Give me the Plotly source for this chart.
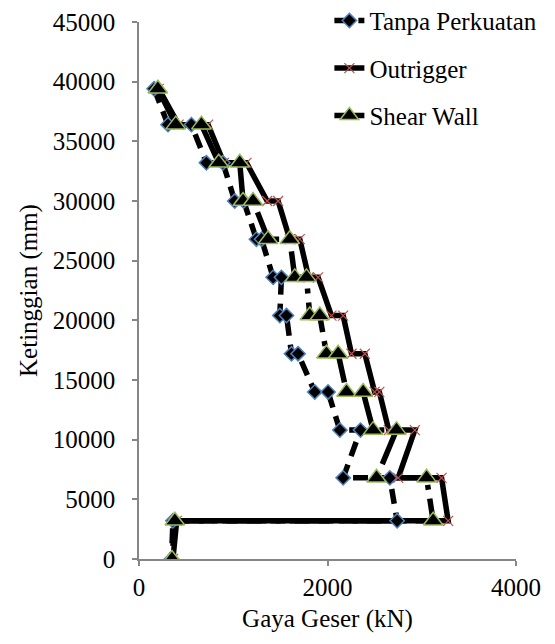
import plotly.graph_objects as go

# Storey heights (mm), shared by all series (sequence of points from roof to base)
heights = [39400, 36400, 36400, 33200, 33200, 30000, 30000, 26800, 26800,
           23600, 23600, 20400, 20400, 17200, 17200, 14000, 14000,
           10800, 10800, 6800, 6800, 3200, 3200, 0]

# Storey shear (kN)
tanpa_perkuatan = [160, 308, 556, 715, 890, 1016, 1110, 1246, 1300,
                   1423, 1511, 1494, 1565, 1618, 1688, 1865, 2006,
                   2131, 2350, 2166, 2661, 2739, 360, 345]
outrigger = [210, 420, 733, 900, 1140, 1360, 1476, 1600, 1706,
             1800, 1900, 2042, 2166, 2255, 2396, 2500, 2550,
             2650, 2927, 2750, 3210, 3280, 400, 360]
shear_wall = [200, 390, 662, 846, 1069, 1104, 1210, 1370, 1600,
              1653, 1777, 1812, 1918, 1989, 2113, 2202, 2378,
              2484, 2732, 2520, 3051, 3121, 380, 350]

series_names = ["Tanpa Perkuatan", "Outrigger", "Shear Wall"]
x_tick_values = [0, 2000, 4000]
y_tick_values = [0, 5000, 10000, 15000, 20000, 25000, 30000, 35000, 40000, 45000]

FONT = "Times New Roman, Liberation Serif, DejaVu Serif, serif"
series = [tanpa_perkuatan, outrigger, shear_wall]
dashes = ["15px,9px", "solid", "40px,9px,5px,9px"]
markers = [
    dict(symbol="diamond", size=11, color="black", line=dict(color="#4F81BD", width=1.5)),
    dict(symbol="x-thin", size=10, color="#C0504D", line=dict(color="#C0504D", width=1.2)),
    dict(symbol="triangle-up", size=17, color="black", line=dict(color="#9BBB59", width=1.5)),
]

fig = go.Figure()
# lines first
for name, xs, dash in zip(series_names, series, dashes):
    fig.add_trace(go.Scatter(x=xs, y=heights, mode="lines", name=name,
                             line=dict(color="black", width=5.5, dash=dash),
                             showlegend=False, hoverinfo="skip"))
# markers on top
for name, xs, mk in zip(series_names, series, markers):
    fig.add_trace(go.Scatter(x=xs, y=heights, mode="markers", name=name,
                             marker=mk, showlegend=False))
# legend entries
for i, (name, dash, mk) in enumerate(zip(series_names, dashes, markers)):
    fig.add_trace(go.Scatter(x=[None], y=[None], mode="lines+markers", name=name,
                             line=dict(color="black", width=5.5, dash=dash),
                             marker=mk, legendgroup=f"g{i}", showlegend=True))

axis_common = dict(showgrid=False, zeroline=False, showline=True,
                   linecolor="#868686", linewidth=1.5, ticks="outside",
                   ticklen=5, tickcolor="#868686", tickwidth=1.5,
                   tickformat="d",
                   tickfont=dict(family=FONT, size=25, color="black"))

fig.update_xaxes(range=[0, 4000], tickvals=x_tick_values,
                 title=dict(text="Gaya Geser (kN)", font=dict(family=FONT, size=25, color="black"), standoff=10),
                 **axis_common)
fig.update_yaxes(range=[0, 45000], tickvals=y_tick_values, ticklabelstandoff=12,
                 title=dict(text="Ketinggian (mm)", font=dict(family=FONT, size=25, color="black"), standoff=8),
                 **axis_common)

fig.update_layout(
    width=555, height=644,
    margin=dict(l=139, r=39, t=22, b=85, autoexpand=False),
    paper_bgcolor="white", plot_bgcolor="white",
    font=dict(family=FONT, size=25, color="black"),
    legend=dict(x=0.505, y=1.045, xanchor="left", yanchor="top",
                bgcolor="rgba(0,0,0,0)", tracegroupgap=12,
                font=dict(family=FONT, size=25, color="black")),
)

fig.write_html("out.html")
